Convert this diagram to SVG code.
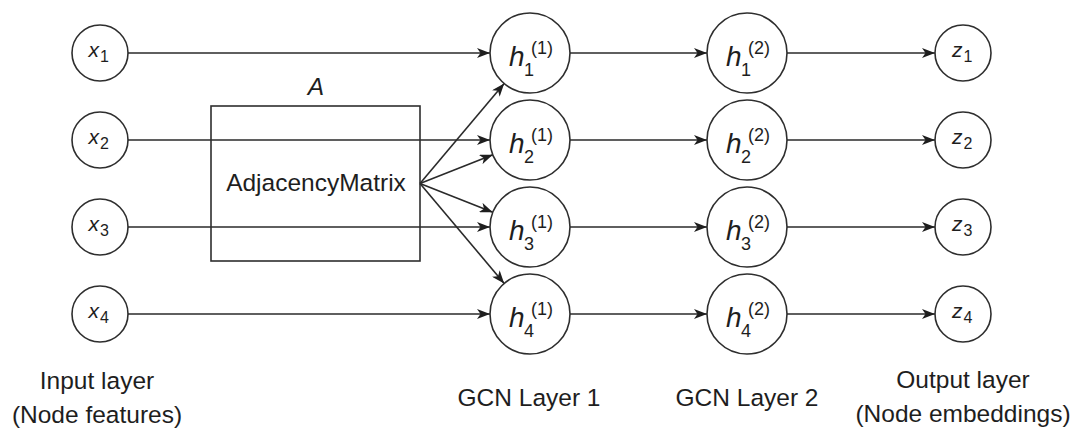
<svg xmlns="http://www.w3.org/2000/svg" width="1078" height="432" viewBox="0 0 1078 432">
<style>
.n{fill:#fff;stroke:#2e2e2e;stroke-width:1.6}
.e{fill:none;stroke:#2a2a2a;stroke-width:1.6;marker-end:url(#ah)}
.t{font-family:"Liberation Sans",Arial,sans-serif;font-size:24.5px;fill:#1e1e1e}
.m{font-family:"Liberation Sans",Arial,sans-serif;fill:#1e1e1e}
.i{font-style:italic}
</style>
<defs>
<marker id="ah" markerUnits="userSpaceOnUse" viewBox="0 0 13 10" refX="13" refY="5" markerWidth="13" markerHeight="10" orient="auto">
<path d="M0,0 L13,5 L0,10 L3.5,5 Z" fill="#1e1e1e"/>
</marker>
</defs>
<rect width="1078" height="432" fill="#fff"/>
<g id="connectors">
<line class="e" x1="128" y1="53" x2="490" y2="53"/>
<line class="e" x1="128" y1="140" x2="490" y2="140"/>
<line class="e" x1="128" y1="227" x2="490" y2="227"/>
<line class="e" x1="128" y1="314" x2="490" y2="314"/>
<line class="e" x1="420" y1="183.5" x2="504.2" y2="83.6"/>
<line class="e" x1="420" y1="183.5" x2="492.8" y2="154.7"/>
<line class="e" x1="420" y1="183.5" x2="492.8" y2="212.3"/>
<line class="e" x1="420" y1="183.5" x2="504.2" y2="283.4"/>
<line class="e" x1="570" y1="53" x2="707" y2="53"/>
<line class="e" x1="570" y1="140" x2="707" y2="140"/>
<line class="e" x1="570" y1="227" x2="707" y2="227"/>
<line class="e" x1="570" y1="314" x2="707" y2="314"/>
<line class="e" x1="787" y1="53" x2="935" y2="53"/>
<line class="e" x1="787" y1="140" x2="935" y2="140"/>
<line class="e" x1="787" y1="227" x2="935" y2="227"/>
<line class="e" x1="787" y1="314" x2="935" y2="314"/>
</g>
<g id="adjacency">
<rect x="211" y="106" width="209" height="155" fill="none" stroke="#2e2e2e" stroke-width="1.6"/>
<text class="t i" x="316" y="95" text-anchor="middle" font-size="25">A</text>
<text class="t" x="316" y="191" text-anchor="middle">AdjacencyMatrix</text>
</g>
<g id="x1"><circle class="n" cx="100" cy="53" r="28"/><text class="m"><tspan class="i" x="88.5" y="57" font-size="21">x</tspan><tspan x="100" y="62" font-size="16">1</tspan></text></g>
<g id="x2"><circle class="n" cx="100" cy="140" r="28"/><text class="m"><tspan class="i" x="88.5" y="144" font-size="21">x</tspan><tspan x="100" y="149" font-size="16">2</tspan></text></g>
<g id="x3"><circle class="n" cx="100" cy="227" r="28"/><text class="m"><tspan class="i" x="88.5" y="231" font-size="21">x</tspan><tspan x="100" y="236" font-size="16">3</tspan></text></g>
<g id="x4"><circle class="n" cx="100" cy="314" r="28"/><text class="m"><tspan class="i" x="88.5" y="318" font-size="21">x</tspan><tspan x="100" y="323" font-size="16">4</tspan></text></g>
<g id="h1_1"><circle class="n" cx="530" cy="53" r="40"/><text class="m"><tspan class="i" x="509" y="66" font-size="28">h</tspan><tspan x="524" y="76" font-size="18">1</tspan><tspan x="531" y="54" font-size="18">(1)</tspan></text></g>
<g id="h2_1"><circle class="n" cx="530" cy="140" r="40"/><text class="m"><tspan class="i" x="509" y="153" font-size="28">h</tspan><tspan x="524" y="163" font-size="18">2</tspan><tspan x="531" y="141" font-size="18">(1)</tspan></text></g>
<g id="h3_1"><circle class="n" cx="530" cy="227" r="40"/><text class="m"><tspan class="i" x="509" y="240" font-size="28">h</tspan><tspan x="524" y="250" font-size="18">3</tspan><tspan x="531" y="228" font-size="18">(1)</tspan></text></g>
<g id="h4_1"><circle class="n" cx="530" cy="314" r="40"/><text class="m"><tspan class="i" x="509" y="327" font-size="28">h</tspan><tspan x="524" y="337" font-size="18">4</tspan><tspan x="531" y="315" font-size="18">(1)</tspan></text></g>
<g id="h1_2"><circle class="n" cx="747" cy="53" r="40"/><text class="m"><tspan class="i" x="726" y="66" font-size="28">h</tspan><tspan x="741" y="76" font-size="18">1</tspan><tspan x="748" y="54" font-size="18">(2)</tspan></text></g>
<g id="h2_2"><circle class="n" cx="747" cy="140" r="40"/><text class="m"><tspan class="i" x="726" y="153" font-size="28">h</tspan><tspan x="741" y="163" font-size="18">2</tspan><tspan x="748" y="141" font-size="18">(2)</tspan></text></g>
<g id="h3_2"><circle class="n" cx="747" cy="227" r="40"/><text class="m"><tspan class="i" x="726" y="240" font-size="28">h</tspan><tspan x="741" y="250" font-size="18">3</tspan><tspan x="748" y="228" font-size="18">(2)</tspan></text></g>
<g id="h4_2"><circle class="n" cx="747" cy="314" r="40"/><text class="m"><tspan class="i" x="726" y="327" font-size="28">h</tspan><tspan x="741" y="337" font-size="18">4</tspan><tspan x="748" y="315" font-size="18">(2)</tspan></text></g>
<g id="z1"><circle class="n" cx="963" cy="53" r="28"/><text class="m"><tspan class="i" x="952" y="57" font-size="21">z</tspan><tspan x="963.5" y="62" font-size="16">1</tspan></text></g>
<g id="z2"><circle class="n" cx="963" cy="140" r="28"/><text class="m"><tspan class="i" x="952" y="144" font-size="21">z</tspan><tspan x="963.5" y="149" font-size="16">2</tspan></text></g>
<g id="z3"><circle class="n" cx="963" cy="227" r="28"/><text class="m"><tspan class="i" x="952" y="231" font-size="21">z</tspan><tspan x="963.5" y="236" font-size="16">3</tspan></text></g>
<g id="z4"><circle class="n" cx="963" cy="314" r="28"/><text class="m"><tspan class="i" x="952" y="318" font-size="21">z</tspan><tspan x="963.5" y="323" font-size="16">4</tspan></text></g>
<g id="labels">
<text class="t" x="97" y="389" text-anchor="middle">Input layer</text>
<text class="t" x="97" y="423" text-anchor="middle">(Node features)</text>
<text class="t" x="529" y="406" text-anchor="middle">GCN Layer 1</text>
<text class="t" x="747" y="406" text-anchor="middle">GCN Layer 2</text>
<text class="t" x="963" y="388" text-anchor="middle">Output layer</text>
<text class="t" x="963" y="422" text-anchor="middle">(Node embeddings)</text>
</g>
</svg>
